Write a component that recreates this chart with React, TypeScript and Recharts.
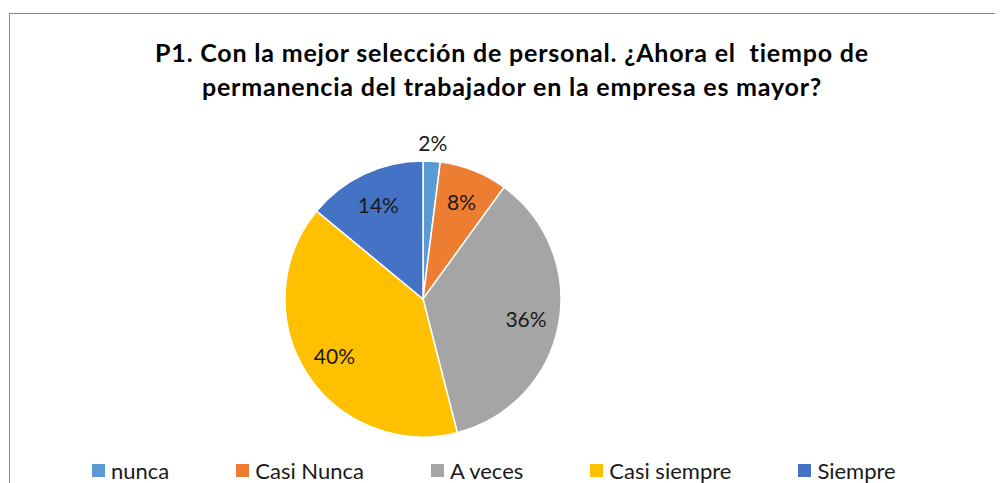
import { PieChart, Pie, Cell, Legend } from 'recharts';

const categories = ['nunca', 'Casi Nunca', 'A veces', 'Casi siempre', 'Siempre'];
const values = [2, 8, 36, 40, 14];
const COLORS = ['#5B9BD5', '#ED7D31', '#A5A5A5', '#FFC000', '#4472C4'];
const titleLines = [
    'P1. Con la mejor selección de personal. ¿Ahora el  tiempo de',
    'permanencia del trabajador en la empresa es mayor?',
];

const data = categories.map((name, i) => ({ name, value: values[i] }));

const FONT = 'Lato, "Open Sans", sans-serif';
const RADIAN = Math.PI / 180;

const renderLabel = ({ cx, cy, midAngle, outerRadius, percent }: any) => {
    // the small slice gets its label outside, like Excel's best fit
    const r = percent < 0.05 ? outerRadius + 19 : outerRadius * 0.76;
    const x = cx + r * Math.cos(-midAngle * RADIAN);
    const y = cy + r * Math.sin(-midAngle * RADIAN);
    return (
        <text x={x} y={y} fill="#1a1a1a" fontSize={21} fontFamily={FONT} textAnchor="middle" dominantBaseline="central">
            {`${Math.round(percent * 100)}%`}
        </text>
    );
};

const CustomLegend = ({ payload }: any) => {
    // keep the legend in the data order
    const items = [...(payload || [])].sort((a: any, b: any) => categories.indexOf(a.value) - categories.indexOf(b.value));
    return (
        <div style={{ display: 'flex', alignItems: 'center', gap: 67, fontFamily: FONT, fontSize: 22, color: '#1a1a1a' }}>
            {items.map((entry: any, index: number) => (
                <div key={`leg-${index}`} style={{ display: 'flex', alignItems: 'center', whiteSpace: 'nowrap' }}>
                    <span style={{ width: 13, height: 13, marginRight: 6, backgroundColor: entry.color, display: 'inline-block' }}></span>
                    <span>{entry.value}</span>
                </div>
            ))}
        </div>
    );
};

const App = () => {
    return (
        <div style={{ position: 'relative', width: 995, height: 475, overflow: 'hidden', background: '#fff' }}>
            <div style={{ position: 'absolute', left: 1, top: 5, width: 1100, height: 600, borderTop: '1px solid #888', borderLeft: '1px solid #888' }}></div>
            <div
                style={{
                    position: 'absolute',
                    left: 0,
                    top: 27,
                    width: 1008,
                    textAlign: 'center',
                    fontFamily: FONT,
                    fontWeight: 700,
                    fontSize: 25,
                    letterSpacing: 0.8,
                    lineHeight: '34px',
                    color: '#000',
                    whiteSpace: 'pre',
                }}
            >
                {titleLines.map((t, i) => (
                    <div key={i}>{t}</div>
                ))}
            </div>
            <div style={{ position: 'absolute', left: 0, top: 0 }}>
                <PieChart width={995} height={475} margin={{ top: 0, right: 0, bottom: 0, left: 0 }}>
                    <Pie
                        data={data}
                        cx={415}
                        cy={291}
                        innerRadius={0}
                        outerRadius={138}
                        startAngle={90}
                        endAngle={-270}
                        dataKey="value"
                        nameKey="name"
                        stroke="#fff"
                        strokeWidth={1.5}
                        label={renderLabel}
                        labelLine={false}
                        isAnimationActive={false}
                    >
                        {data.map((_, index) => (
                            <Cell key={`cell-${index}`} fill={COLORS[index % COLORS.length]} />
                        ))}
                    </Pie>
                    <Legend
                        content={<CustomLegend />}
                        wrapperStyle={{ position: 'absolute', top: 449, left: 84, width: 'auto', height: 24 }}
                    />
                </PieChart>
            </div>
        </div>
    );
};

export default App;
